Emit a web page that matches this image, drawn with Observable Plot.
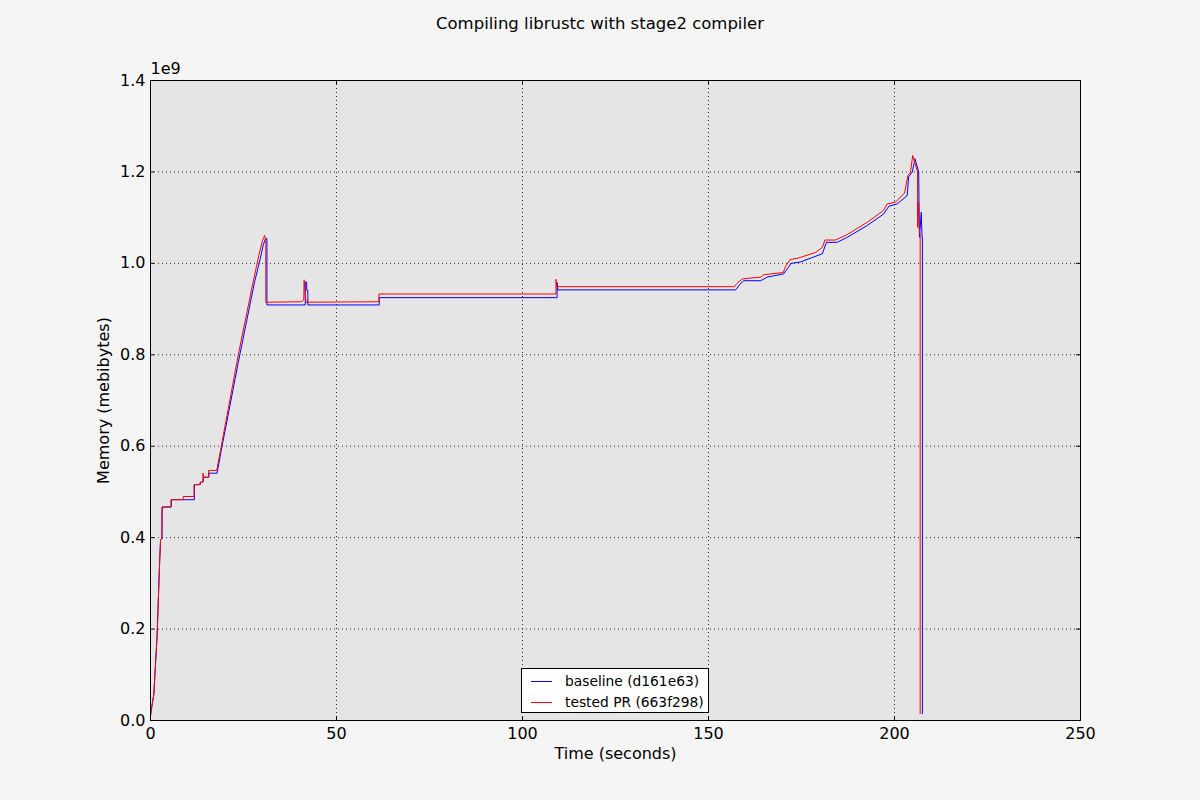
<!DOCTYPE html>
<html><head><meta charset="utf-8">
<script src="https://cdn.jsdelivr.net/npm/d3@7"></script>
<script src="https://cdn.jsdelivr.net/npm/@observablehq/plot@0.6"></script>
<style>
body{margin:0;background:#f5f5f5;font-family:"DejaVu Sans",sans-serif;}
#wrap{position:relative;width:1200px;height:800px;background:#f5f5f5;}
#title{height:26px;padding-top:14px;line-height:20px;text-align:center;font-size:16.5px;color:#000;}
#legend{position:absolute;left:521px;top:668px;width:186px;height:43px;border:1px solid #000;background:#fff;font-size:13.8px;color:#000;}
#legend .row{position:absolute;left:0;height:20px;line-height:20px;white-space:nowrap;}
#legend .sw{position:absolute;left:9px;top:10px;width:21px;height:0;border-top:1px solid;}
#legend .lb{position:absolute;left:43px;top:0;}
</style></head>
<body>
<div id="wrap">
<div id="title">Compiling librustc with stage2 compiler</div>
<div id="chart"></div>
<div id="legend"></div>
</div>
<script>
// Data (memory in units of 1e9 bytes)
const baselineTime = [0,0.27,0.9,1.8,2.4,2.7,3.1,3.15,5.6,5.6,11.8,11.8,13.4,13.4,14.2,14.2,15.7,15.7,17.9,19,24,28,29.5,30.3,30.9,31.3,31.3,41.6,41.6,42,42,42.3,42.3,61.5,61.5,109.3,109.3,109.5,157.3,157.7,158.4,159.5,164,165.8,170.2,171.2,172.2,174.7,178.3,180.6,181.7,184.6,187.3,192.7,197.1,198.5,200.7,203.4,203.8,204.8,205.5,206.5,206.7,207.2,207.4,207.5,207.5];
const baselineMem  = [0.01,0.026,0.058,0.19,0.335,0.394,0.398,0.467,0.467,0.483,0.483,0.516,0.516,0.521,0.522,0.532,0.532,0.541,0.541,0.59,0.8,0.96,1.01,1.04,1.054,1.054,0.909,0.909,0.959,0.959,0.941,0.941,0.909,0.909,0.925,0.925,0.958,0.942,0.942,0.946,0.954,0.962,0.962,0.97,0.977,0.988,1.0,1.003,1.014,1.021,1.046,1.046,1.057,1.083,1.108,1.125,1.13,1.148,1.189,1.2,1.229,1.2,1.057,1.112,1.057,1.057,0.015];
const testedTime = [0,0.27,0.9,1.8,2.4,2.7,3.0,3.1,5.5,5.5,8.8,8.8,11.7,11.7,13.3,13.3,14.1,14.1,14.4,15.6,15.6,17.8,18.8,23.6,27.6,29.2,30.1,30.7,31.0,31.0,40.5,41.2,41.3,41.6,41.8,61.4,61.4,109.0,109.0,109.2,157.0,157.5,159.1,164.2,164.7,170.1,170.7,171.9,174.3,178.8,180.6,181.3,184.1,187.3,192.7,197.1,198,200.3,202.7,203.6,204.3,204.9,206.2,206.2,206.4,206.6,206.9,206.9];
const testedMem  = [0.01,0.026,0.058,0.19,0.335,0.394,0.398,0.467,0.467,0.483,0.483,0.49,0.49,0.516,0.516,0.521,0.522,0.541,0.532,0.532,0.547,0.547,0.59,0.8,0.96,1.02,1.05,1.061,1.05,0.915,0.916,0.92,0.964,0.93,0.915,0.916,0.933,0.933,0.965,0.949,0.949,0.955,0.966,0.97,0.975,0.98,0.993,1.008,1.012,1.024,1.035,1.051,1.051,1.063,1.09,1.116,1.13,1.134,1.154,1.192,1.2,1.236,1.2,1.079,1.134,1.079,1.06,0.015];
const xTicks = [0,50,100,150,200,250];
const yTicks = [0,0.2,0.4,0.6,0.8,1.0,1.2,1.4];
const seriesNames = ["baseline (d161e63)","tested PR (663f298)"];
const seriesColors = ["#0000ff","#ff0000"];

const baseline = baselineTime.map((t,i)=>({t, m: baselineMem[i]}));
const tested = testedTime.map((t,i)=>({t, m: testedMem[i]}));

const chart = Plot.plot({
  width: 1200, height: 760,
  marginLeft: 150, marginRight: 120, marginTop: 40, marginBottom: 80,
  style: {background: "#f5f5f5", fontFamily: "DejaVu Sans, sans-serif", fontSize: "16px", color: "#000"},
  x: {domain: [0,250]},
  y: {domain: [0,1.4]},
  marks: [
    Plot.frame({fill: "#e5e5e5"}),
    Plot.ruleX(xTicks.slice(1,-1), {x: d=>d, stroke: "#000", strokeWidth: 1, strokeDasharray: "1,3", strokeOpacity: 0.8}),
    Plot.ruleY(yTicks.slice(1,-1), {y: d=>d, stroke: "#000", strokeWidth: 1, strokeDasharray: "1,3", strokeOpacity: 0.8}),
    Plot.line(baseline, {x: "t", y: "m", stroke: seriesColors[0], strokeWidth: 1}),
    Plot.line(tested, {x: "t", y: "m", stroke: seriesColors[1], strokeWidth: 1}),
    Plot.ruleX(xTicks, {x: d=>d, insetTop: 636, stroke: "#000"}),
    Plot.ruleX(xTicks, {x: d=>d, insetBottom: 636, stroke: "#000"}),
    Plot.ruleY(yTicks, {y: d=>d, insetRight: 926, stroke: "#000"}),
    Plot.ruleY(yTicks, {y: d=>d, insetLeft: 926, stroke: "#000"}),
    Plot.frame({stroke: "#000", strokeWidth: 1}),
    Plot.axisX(xTicks, {tickSize: 0, tickPadding: 7, fontSize: 16, tickFormat: d=>String(d), label: "Time (seconds)", labelAnchor: "center", labelArrow: "none", labelOffset: 38}),
    Plot.axisY(yTicks, {tickSize: 0, tickPadding: 5, fontSize: 16, tickFormat: d3.format(".1f"), label: "Memory (mebibytes)", labelAnchor: "center", labelArrow: "none", labelOffset: 53}),
    Plot.text(["1e9"], {frameAnchor: "top-left", text: d=>d, dy: -18, textAnchor: "start", fontSize: 16, fill: "#000"})
  ]
});
document.getElementById("chart").appendChild(chart);

const legend = document.getElementById("legend");
seriesNames.forEach((name,i)=>{
  const row = document.createElement("div");
  row.className = "row";
  row.style.top = (2 + i*21) + "px";
  row.style.width = "186px";
  const sw = document.createElement("div");
  sw.className = "sw"; sw.style.borderTopColor = seriesColors[i];
  const lb = document.createElement("div");
  lb.className = "lb"; lb.textContent = name;
  row.appendChild(sw); row.appendChild(lb);
  legend.appendChild(row);
});
</script>
</body></html>
